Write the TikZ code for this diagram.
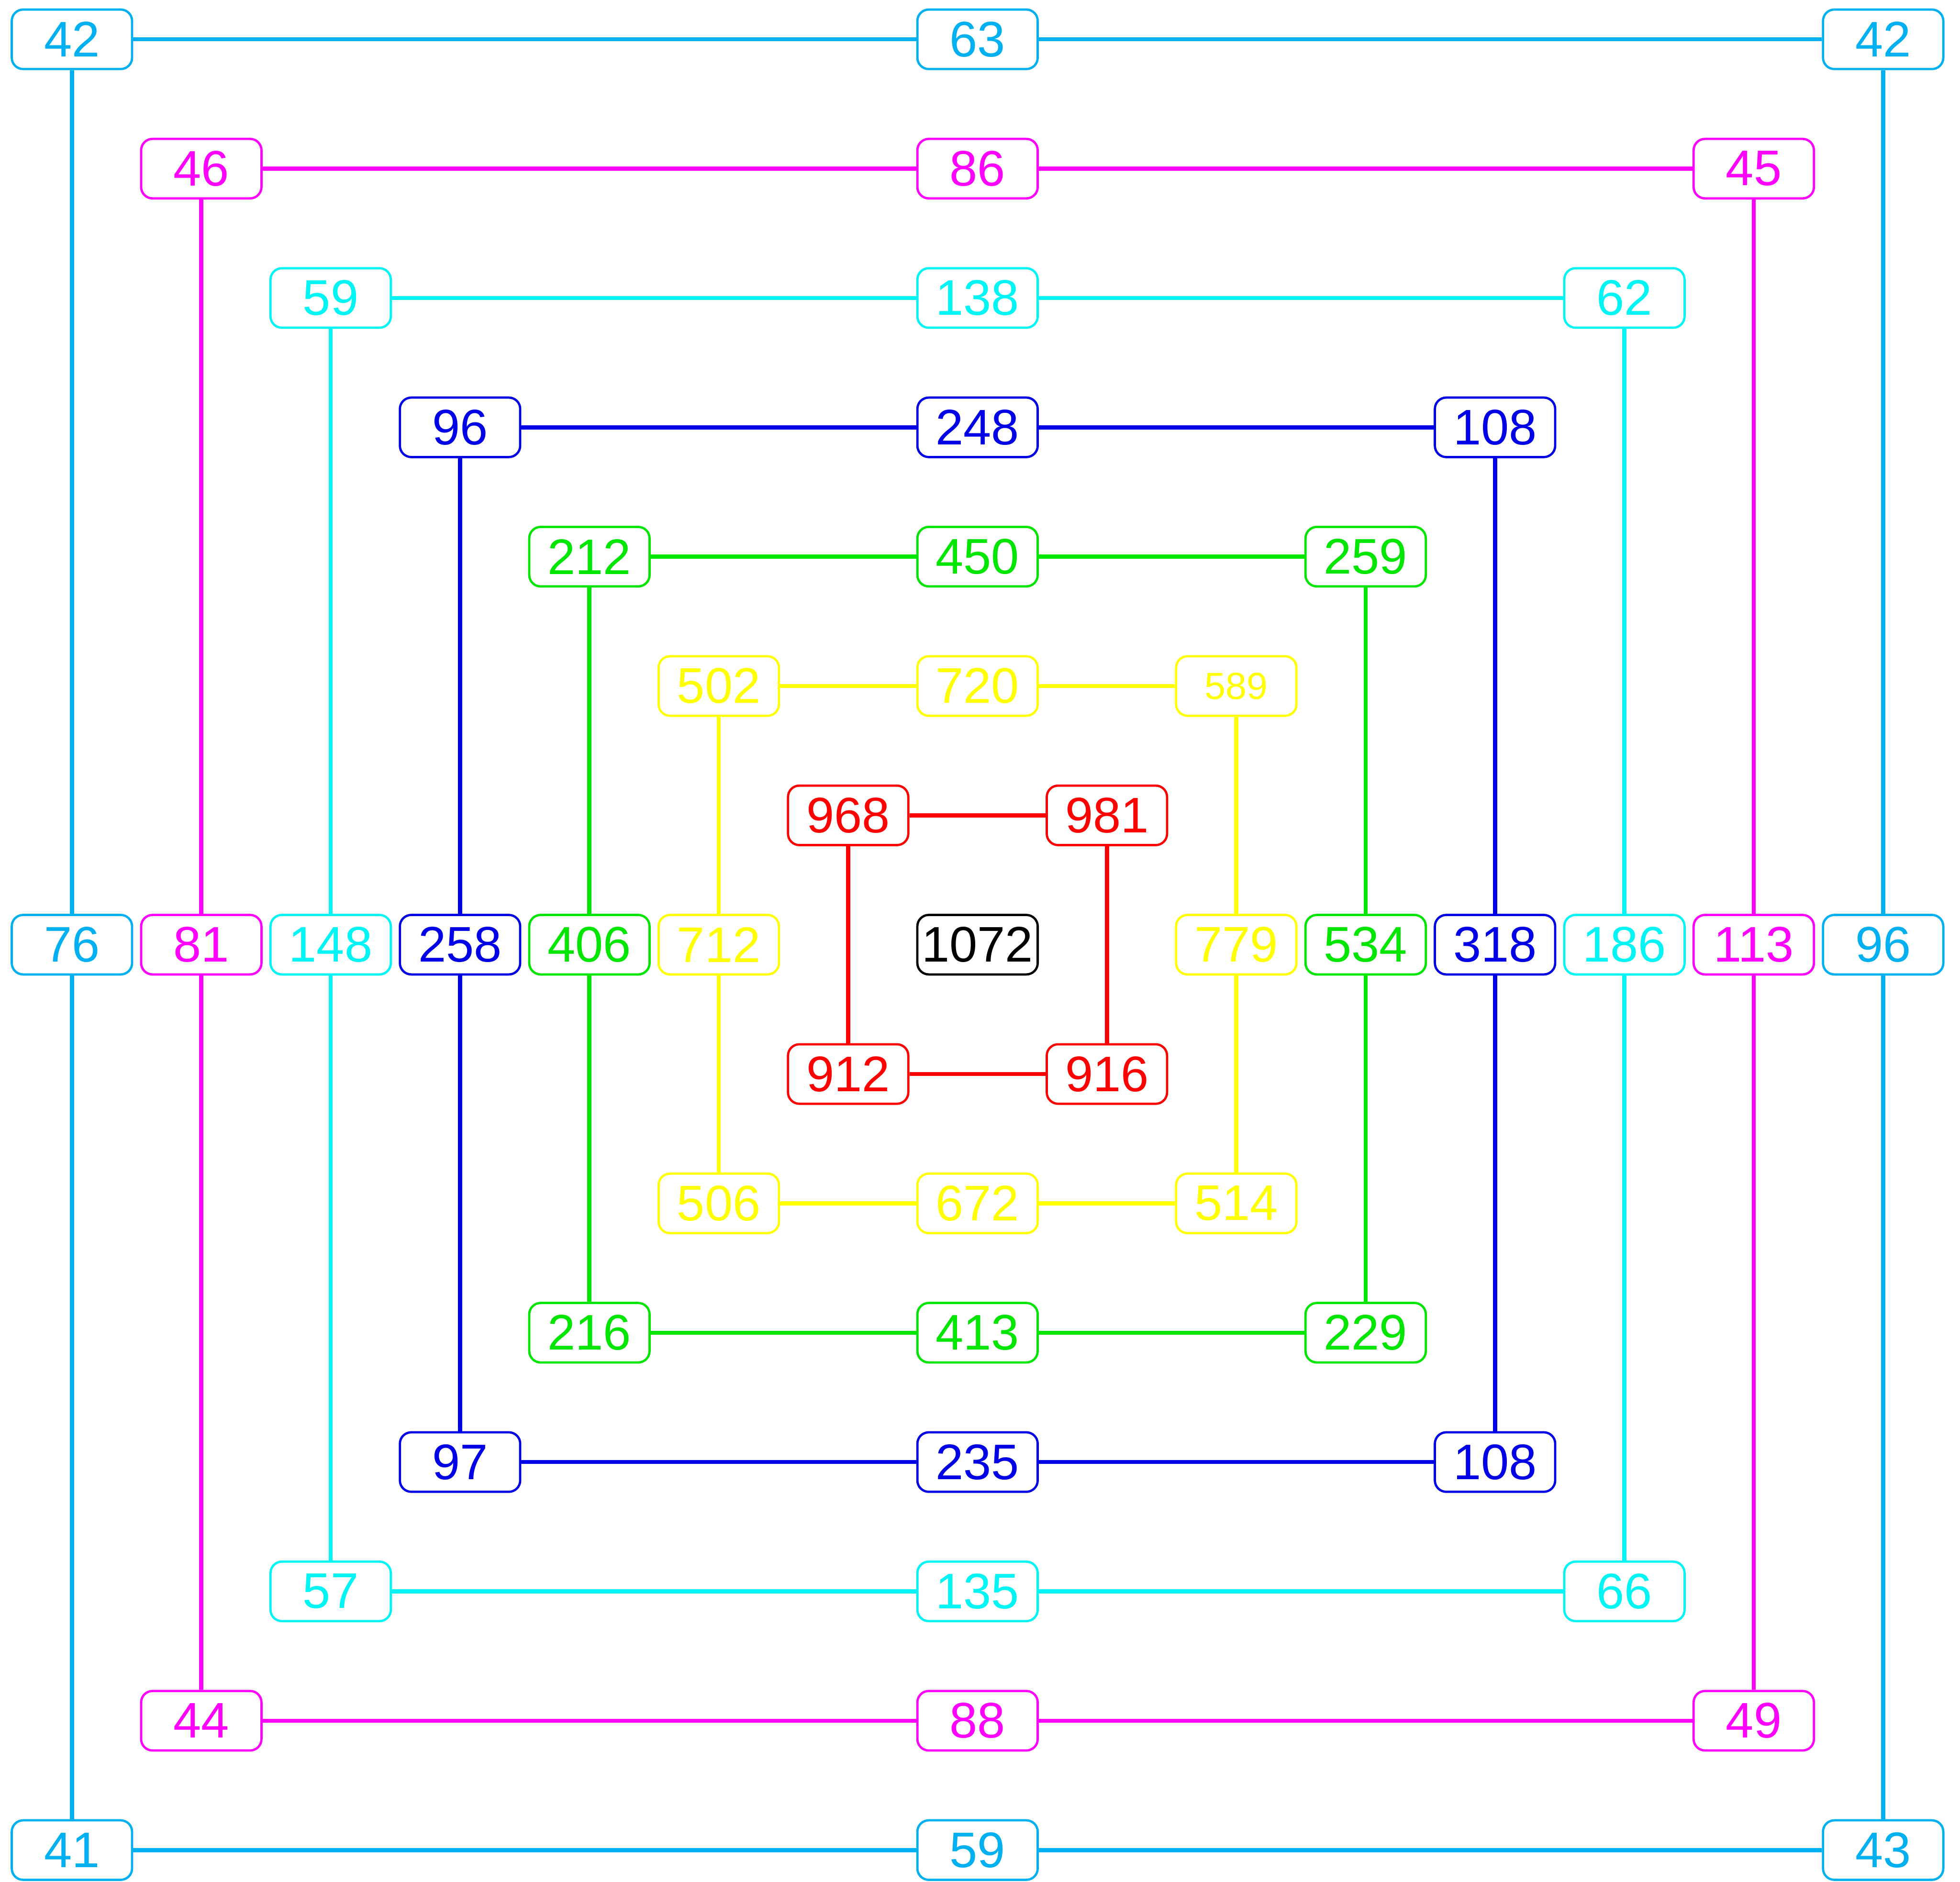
\documentclass[tikz,border=0pt]{standalone}
\usepackage{fontspec}
\setmainfont{Liberation Sans}
\usepackage{xcolor}
\usepackage{tikz}
\usetikzlibrary{positioning}

\definecolor{ringsky}{RGB}{0,176,240}
\definecolor{ringmag}{RGB}{255,0,255}
\definecolor{ringcyan}{RGB}{0,245,245}
\definecolor{ringblue}{RGB}{0,0,230}
\definecolor{ringgreen}{RGB}{0,230,0}
\definecolor{ringyellow}{RGB}{255,255,0}
\definecolor{ringred}{RGB}{255,0,0}

\begin{document}
\begin{tikzpicture}[
		every node/.style={
			draw,
			rounded corners=2.5pt,
			fill=white,
			line width=0.5pt,
			minimum width=0.93cm,
			minimum height=0.46cm,
			inner sep=1pt,
			font=\fontsize{11}{12}\selectfont
		},
		sky/.style={draw=ringsky,text=ringsky},
		mag/.style={draw=ringmag,text=ringmag},
		cya/.style={draw=ringcyan,text=ringcyan},
		blu/.style={draw=ringblue,text=ringblue},
		gre/.style={draw=ringgreen,text=ringgreen},
		yel/.style={draw=ringyellow,text=ringyellow},
		red/.style={draw=ringred,text=ringred},
		link/.style={line width=0.9pt}
		]
		\useasboundingbox (-7.556,-7.246) rectangle (7.594,7.304);
		
		% outer ring
		\node[sky] (skytl) at (-7,7) {42};
		\node[sky] (skyt) at (0,7) {63};
		\node[sky] (skytr) at (7,7) {42};
		\node[sky] (skyl) at (-7,0) {76};
		\node[sky] (skyr) at (7,0) {96};
		\node[sky] (skybl) at (-7,-7) {41};
		\node[sky] (skyb) at (0,-7) {59};
		\node[sky] (skybr) at (7,-7) {43};
		
		\node[mag] (magtl) at (-6,6) {46};
		\node[mag] (magt) at (0,6) {86};
		\node[mag] (magtr) at (6,6) {45};
		\node[mag] (magl) at (-6,0) {81};
		\node[mag] (magr) at (6,0) {113};
		\node[mag] (magbl) at (-6,-6) {44};
		\node[mag] (magb) at (0,-6) {88};
		\node[mag] (magbr) at (6,-6) {49};
		
		\node[cya] (cyantl) at (-5,5) {59};
		\node[cya] (cyant) at (0,5) {138};
		\node[cya] (cyantr) at (5,5) {62};
		\node[cya] (cyanl) at (-5,0) {148};
		\node[cya] (cyanr) at (5,0) {186};
		\node[cya] (cyanbl) at (-5,-5) {57};
		\node[cya] (cyanb) at (0,-5) {135};
		\node[cya] (cyanbr) at (5,-5) {66};
		
		\node[blu] (bluetl) at (-4,4) {96};
		\node[blu] (bluet) at (0,4) {248};
		\node[blu] (bluetr) at (4,4) {108};
		\node[blu] (bluel) at (-4,0) {258};
		\node[blu] (bluer) at (4,0) {318};
		\node[blu] (bluebl) at (-4,-4) {97};
		\node[blu] (blueb) at (0,-4) {235};
		\node[blu] (bluebr) at (4,-4) {108};
		
		\node[gre] (greentl) at (-3,3) {212};
		\node[gre] (greent) at (0,3) {450};
		\node[gre] (greentr) at (3,3) {259};
		\node[gre] (greenl) at (-3,0) {406};
		\node[gre] (greenr) at (3,0) {534};
		\node[gre] (greenbl) at (-3,-3) {216};
		\node[gre] (greenb) at (0,-3) {413};
		\node[gre] (greenbr) at (3,-3) {229};
		
		\node[yel] (yeltl) at (-2,2) {502};
		\node[yel] (yelt) at (0,2) {720};
		\node[yel,font=\fontsize{8.3}{10}\selectfont] (yeltr) at (2,2) {589};
		\node[yel] (yell) at (-2,0) {712};
		\node[yel] (yelr) at (2,0) {779};
		\node[yel] (yelbl) at (-2,-2) {506};
		\node[yel] (yelb) at (0,-2) {672};
		\node[yel] (yelbr) at (2,-2) {514};
		
		% inner ring
		\node[red] (redtl) at (-1,1) {968};
		\node[red] (redtr) at (1,1) {981};
		\node[red] (redbl) at (-1,-1) {912};
		\node[red] (redbr) at (1,-1) {916};
		
		\node[draw=black,text=black] (centre) at (0,0) {1072};
		
		\draw[link,ringsky] (skytl)--(skyt)--(skytr)--(skyr)--(skybr)--(skyb)--(skybl)--(skyl)--(skytl);
		\draw[link,ringmag] (magtl)--(magt)--(magtr)--(magr)--(magbr)--(magb)--(magbl)--(magl)--(magtl);
		\draw[link,ringcyan] (cyantl)--(cyant)--(cyantr)--(cyanr)--(cyanbr)--(cyanb)--(cyanbl)--(cyanl)--(cyantl);
		\draw[link,ringblue] (bluetl)--(bluet)--(bluetr)--(bluer)--(bluebr)--(blueb)--(bluebl)--(bluel)--(bluetl);
		\draw[link,ringgreen] (greentl)--(greent)--(greentr)--(greenr)--(greenbr)--(greenb)--(greenbl)--(greenl)--(greentl);
		\draw[link,ringyellow] (yeltl)--(yelt)--(yeltr)--(yelr)--(yelbr)--(yelb)--(yelbl)--(yell)--(yeltl);
		\draw[link,ringred] (redtl)--(redtr)--(redbr)--(redbl)--(redtl);
		
	\end{tikzpicture}
\end{document}
